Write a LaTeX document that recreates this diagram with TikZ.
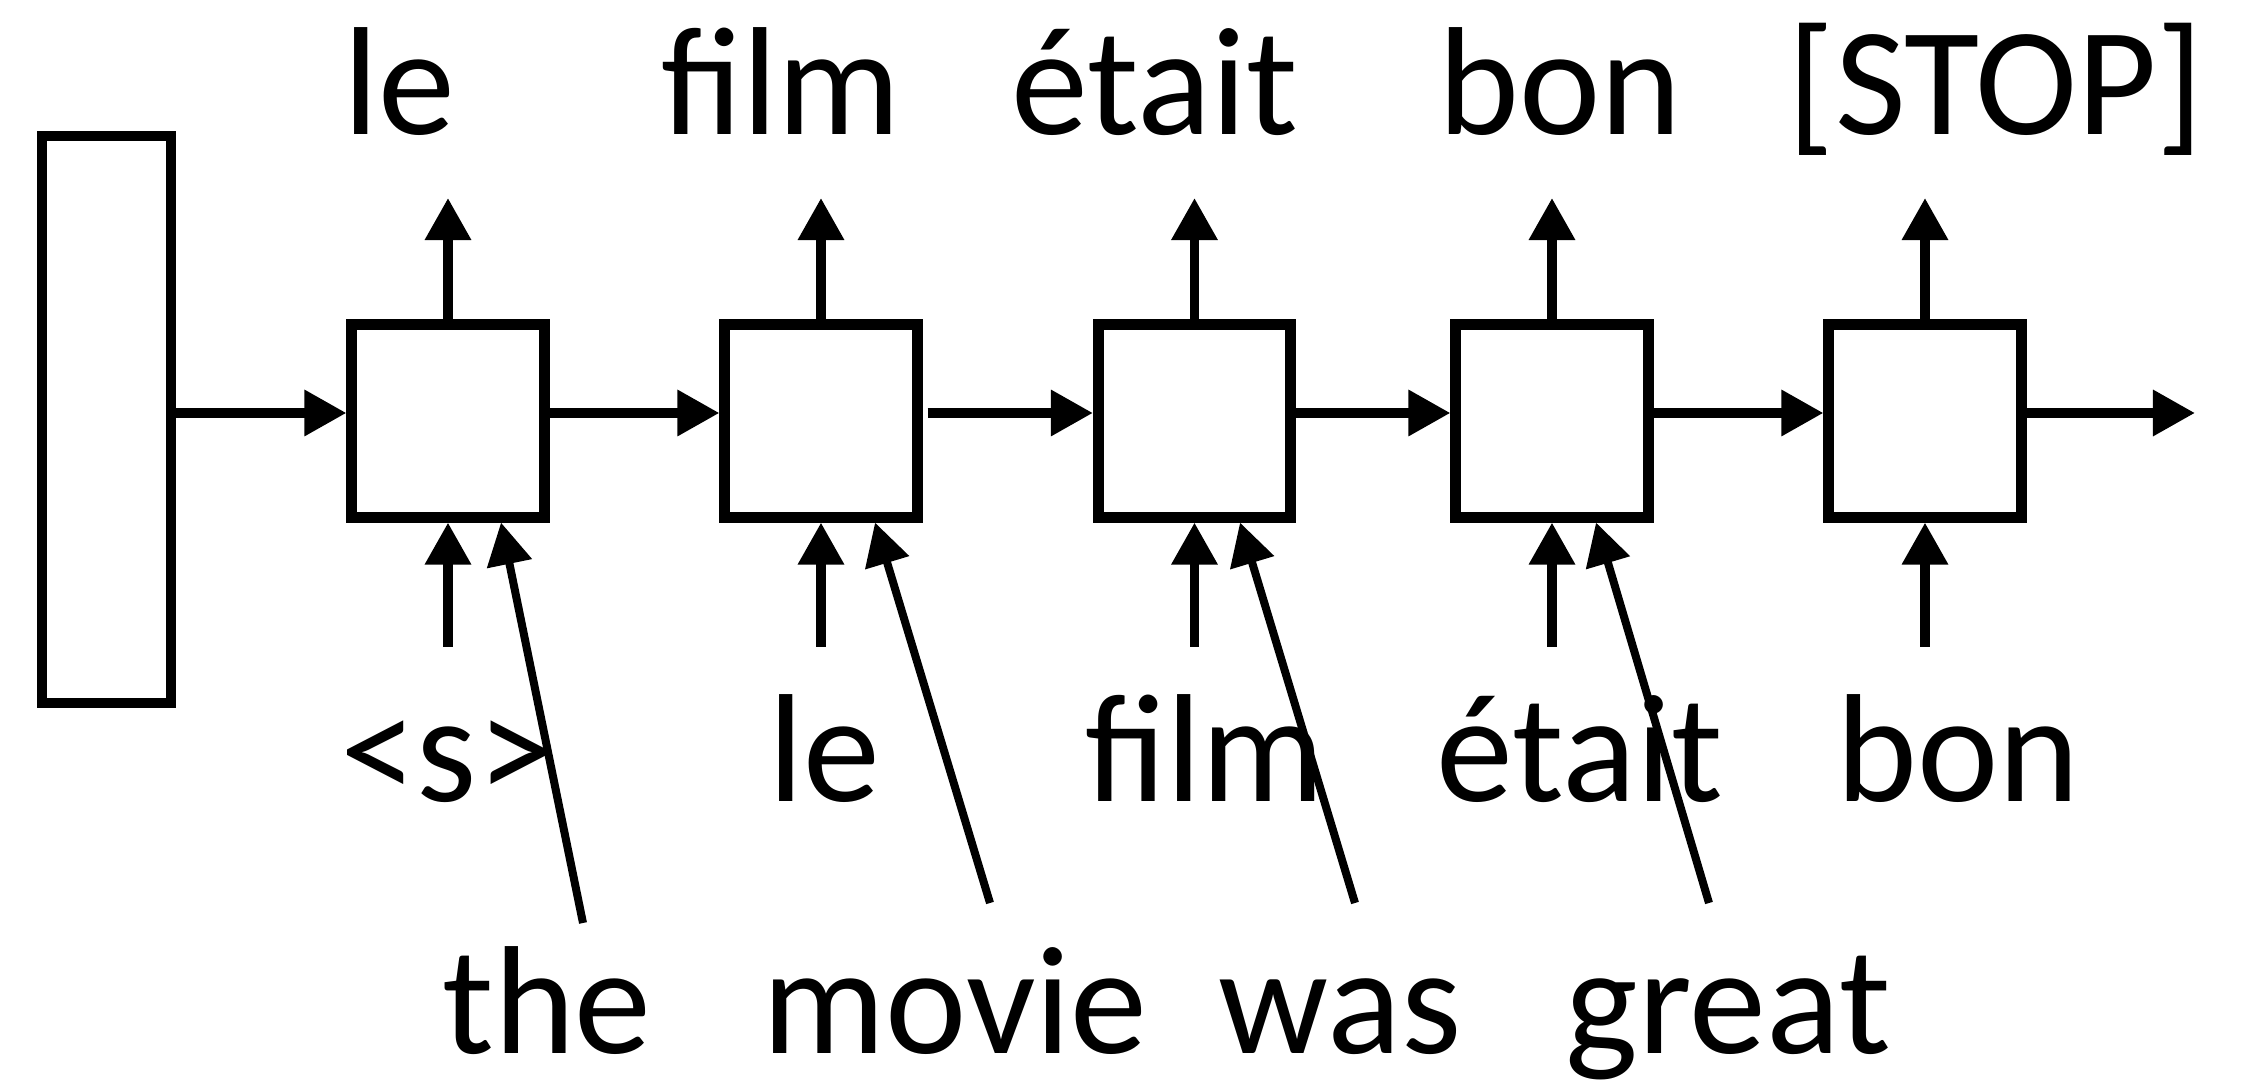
\documentclass[tikz,border=0pt]{standalone}
\usepackage{fontspec}
\setmainfont{Carlito}
\usetikzlibrary{arrows.meta}
\begin{document}
\begin{tikzpicture}[x=0.01cm,y=-0.01cm,
  cell/.style={draw,line width=0.11cm,minimum width=1.92cm,minimum height=1.92cm,inner sep=0pt},
  enc/.style={draw,line width=0.10cm,minimum width=1.29cm,minimum height=5.67cm,inner sep=0pt},
  arr/.style={line width=0.095cm,-{Triangle[length=0.42cm,width=0.44cm]}},
  sarr/.style={line width=0.08cm,-{Triangle[length=0.42cm,width=0.44cm]}},
  word/.style={inner sep=0pt,anchor=base,font=\fontsize{43.8}{52}\selectfont}]
\useasboundingbox (0,0) rectangle (2253,1083);
% encoder vector
\node[enc] (E) at (106.5,419.5) {};
% decoder cells
\node[cell] (b1) at (448,421) {};
\node[cell] (b2) at (821,421) {};
\node[cell] (b3) at (1194.5,421) {};
\node[cell] (b4) at (1552,421) {};
\node[cell] (b5) at (1925,421) {};
\coordinate (h) at (0,413);
\coordinate (hout) at (2195,413);
% horizontal recurrent arrows
\draw[arr] (E.east |- h) -- (b1.west |- h);
\draw[arr] (b1.east |- h) -- (b2.west |- h);
\draw[arr] ([xshift=0.05cm]b2.east |- h) -- (b3.west |- h);
\draw[arr] (b3.east |- h) -- (b4.west |- h);
\draw[arr] (b4.east |- h) -- (b5.west |- h);
\draw[arr] (b5.east |- h) -- (hout);
% output and input arrows
\foreach \i in {1,...,5}{
  \coordinate (o\i) at (b\i.north |- 0,198);
  \coordinate (in\i) at (b\i.south |- 0,647);
  \draw[arr] (b\i.north) -- (o\i);
  \draw[arr] (in\i) -- (b\i.south);
}
% source arrows
\coordinate (s1) at (583,923);
\coordinate (s2) at (990,903);
\coordinate (s3) at (1355,903);
\coordinate (s4) at (1709,903);
\draw[sarr] (s1) -- ([xshift=0.53cm]b1.south);
\draw[sarr] (s2) -- ([xshift=0.54cm]b2.south);
\draw[sarr] (s3) -- ([xshift=0.455cm]b3.south);
\draw[sarr] (s4) -- ([xshift=0.44cm]b4.south);
% top words
\node[word] (t1) at (399,135) {le};
\node[word] (t2) at (781,135) {film};
\node[word] (t3) at (1155,135) {était};
\node[word] (t4) at (1560,135) {bon};
\node[word] (t5) at (1996,135) {[STOP]};
% middle words
\node[word] (m1) at (447,802) {\textless s\textgreater};
\node[word] (m2) at (824,802) {le};
\node[word] (m3) at (1205,802) {film};
\node[word] (m4) at (1580,802) {était};
\node[word] (m5) at (1958,802) {bon};
% source words
\node[word] (w1) at (547,1054) {the};
\node[word] (w2) at (955,1054) {movie};
\node[word] (w3) at (1340,1054) {was};
\node[word] (w4) at (1728,1054) {great};
\end{tikzpicture}
\end{document}
